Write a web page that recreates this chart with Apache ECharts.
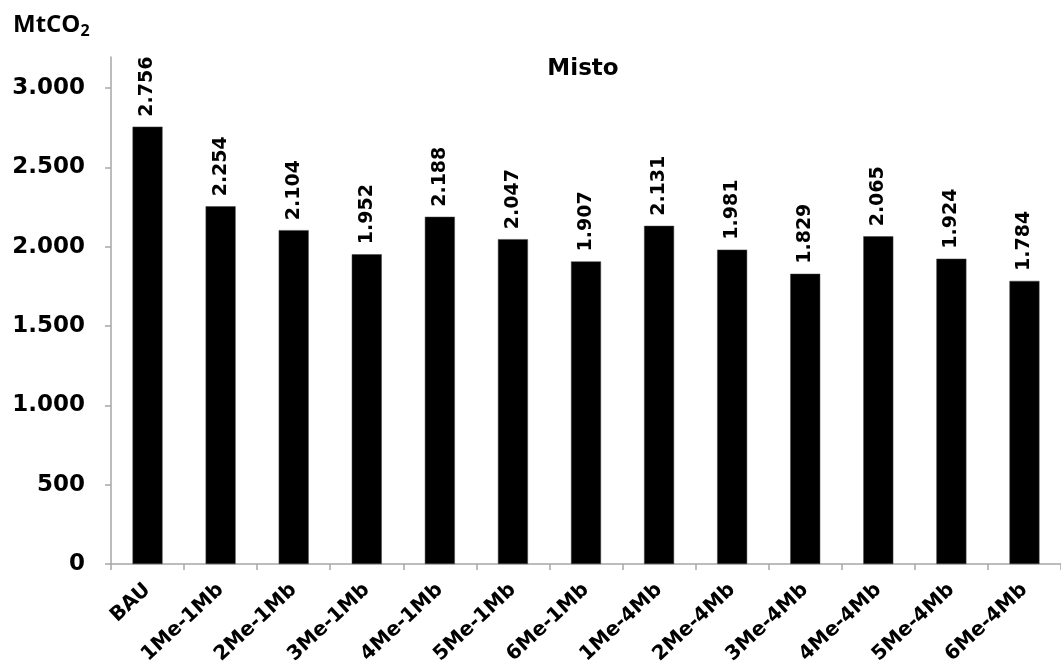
<!DOCTYPE html>
<html><head><meta charset="utf-8">
<script src="https://cdn.jsdelivr.net/npm/echarts@6/dist/echarts.min.js"></script>
<style>html,body{margin:0;padding:0;background:#fff}#c{width:1061px;height:669px}</style>
</head><body><div id="c"></div>
<script>
const categories = ['BAU','1Me-1Mb','2Me-1Mb','3Me-1Mb','4Me-1Mb','5Me-1Mb','6Me-1Mb','1Me-4Mb','2Me-4Mb','3Me-4Mb','4Me-4Mb','5Me-4Mb','6Me-4Mb'];
const values = [2756,2254,2104,1952,2188,2047,1907,2131,1981,1829,2065,1924,1784];
const yTicks = [0,500,1000,1500,2000,2500,3000];

function fmt(v){ return String(v).replace(/\B(?=(\d{3})+(?!\d))/g,'.'); }

const chart = echarts.init(document.getElementById('c'));
chart.setOption({
  animation:false,
  backgroundColor:'#fff',
  title:[{
    text:'Misto', left:578, top:53, textAlign:'center',
    textStyle:{fontFamily:'DejaVu Sans',fontWeight:'bold',fontSize:23,color:'#000'}
  },{
    text:'{a|MtCO}{b|2}', left:8, top:6,
    textStyle:{rich:{
      a:{fontFamily:'Open Sans',fontWeight:'bold',fontSize:24,color:'#000'},
      b:{fontFamily:'Open Sans',fontWeight:'bold',fontSize:16,color:'#000',padding:[12,0,0,0]}
    }}
  }],
  grid:{left:111,right:-12,top:57,bottom:105,containLabel:false},
  xAxis:{
    type:'category', data:categories,
    axisLine:{lineStyle:{color:'#a6a6a6',width:1.5}},
    axisTick:{show:true,length:6,lineStyle:{color:'#a6a6a6',width:1.5}},
    axisLabel:{rotate:43,interval:0,margin:23,fontFamily:'DejaVu Sans',fontWeight:'bold',fontSize:20,color:'#000'}
  },
  yAxis:{
    type:'value', min:0, max:3195, interval:500,
    splitLine:{show:false},
    axisLine:{show:true,lineStyle:{color:'#a6a6a6',width:1.5}},
    axisTick:{show:true,length:6,lineStyle:{color:'#a6a6a6',width:1.5}},
    axisLabel:{showMaxLabel:false,margin:26,fontFamily:'DejaVu Sans',fontWeight:'bold',fontSize:23,color:'#000',
      formatter:function(v){ return yTicks.indexOf(v)>=0 ? fmt(v) : ''; }}
  },
  series:[{
    type:'bar', data:values, barWidth:30,
    itemStyle:{color:'#000',borderColor:'#444',borderWidth:0.5},
    label:{show:true,position:'top',rotate:90,distance:10,align:'left',verticalAlign:'middle',
      fontFamily:'DejaVu Sans',fontWeight:'bold',fontSize:19,color:'#000',
      formatter:function(p){return fmt(p.value);}}
  }]
});
</script></body></html>
